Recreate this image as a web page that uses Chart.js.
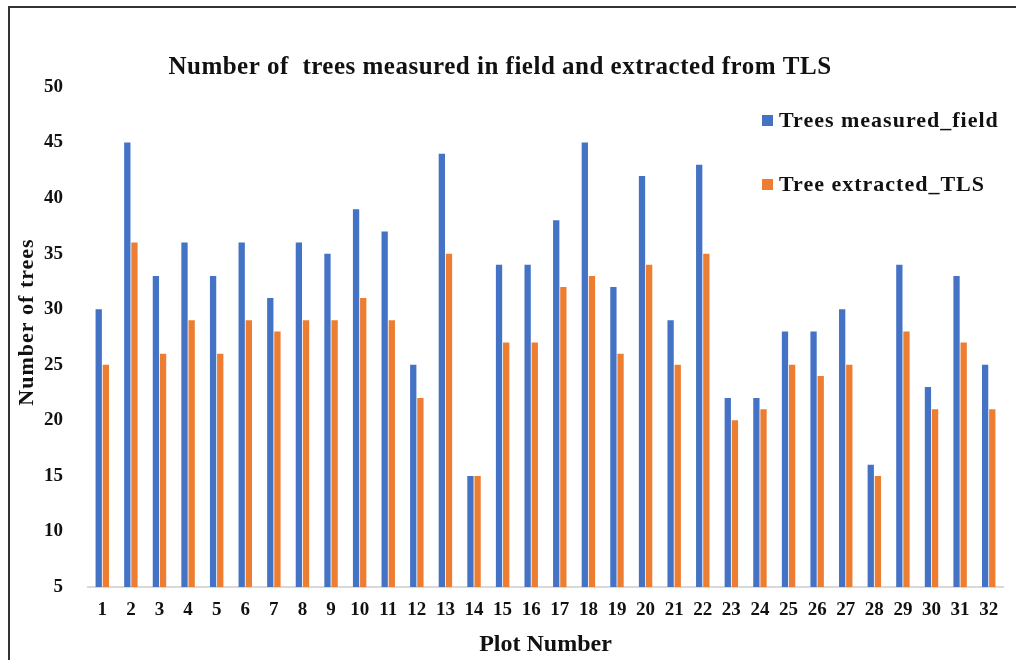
<!DOCTYPE html>
<html>
<head>
<meta charset="utf-8">
<script src="https://cdn.jsdelivr.net/npm/chart.js@4.4.1/dist/chart.umd.min.js"></script>
<style>
  html, body { margin: 0; padding: 0; background: #fff; }
  #wrap { position: relative; width: 1016px; height: 660px; overflow: hidden; }
  #frame { position: absolute; left: 8px; top: 6px; width: 1100px; height: 700px;
           border-left: 2px solid #333; border-top: 2px solid #333; box-sizing: border-box; }
  canvas { position: absolute; left: 0; top: 0; }
</style>
</head>
<body>
<div id="wrap">
  <div id="frame"></div>
  <canvas id="chart" width="1016" height="660"></canvas>
</div>
<script>
// Plot numbers along the x axis
const plots = ['1','2','3','4','5','6','7','8','9','10','11','12','13','14','15','16',
               '17','18','19','20','21','22','23','24','25','26','27','28','29','30','31','32'];
// Trees counted in the field per plot
const fieldTrees = [30,45,33,36,33,36,31,36,35,39,37,25,44,15,34,34,
                    38,45,32,42,29,43,22,22,28,28,30,16,34,23,33,25];
// Trees extracted from the terrestrial laser scan per plot
const tlsTrees = [25,36,26,29,26,29,28,29,29,31,29,22,35,15,27,27,
                  32,33,26,34,25,35,20,21,25,24,25,15,28,21,27,21];
// Y axis range
const yMin = 5, yMax = 50, yStep = 5;

const SERIF = '"Liberation Serif", "DejaVu Serif", serif';
const titleText = 'Number of  trees measured in field and extracted from TLS';
const yTitleText = 'Number of trees';

// Title, y-axis title and legend drawn straight onto the canvas
const overlay = {
  id: 'overlay',
  afterDraw(chart) {
    const ctx = chart.ctx;
    ctx.save();
    ctx.fillStyle = '#111';
    ctx.font = 'bold 25px ' + SERIF;
    ctx.letterSpacing = '0.5px';
    ctx.textAlign = 'center';
    ctx.textBaseline = 'middle';
    ctx.fillText(titleText, 500, 68);

    // vertical axis title
    ctx.save();
    ctx.translate(27, 322);
    ctx.rotate(-Math.PI / 2);
    ctx.font = 'bold 22px ' + SERIF;
    ctx.letterSpacing = '1px';
    ctx.fillText(yTitleText, 0, 0);
    ctx.restore();

    ctx.font = 'bold 22px ' + SERIF;
    ctx.letterSpacing = '1px';
    ctx.textAlign = 'left';
    const rows = [120, 184];
    chart.data.datasets.forEach((ds, i) => {
      ctx.fillStyle = ds.backgroundColor;
      ctx.fillRect(762, rows[i] - 5, 11, 11);
      ctx.fillStyle = '#111';
      ctx.fillText(ds.label, 779, rows[i] + 1);
    });
    ctx.restore();
  }
};

new Chart(document.getElementById('chart'), {
  type: 'bar',
  data: {
    labels: plots,
    datasets: [
      { label: 'Trees measured_field', data: fieldTrees, backgroundColor: '#4472C4' },
      { label: 'Tree extracted_TLS', data: tlsTrees, backgroundColor: '#ED7D31' }
    ]
  },
  options: {
    responsive: false,
    animation: false,
    devicePixelRatio: 1,
    layout: { padding: { left: 0, right: 13, top: 87, bottom: 0 } },
    datasets: { bar: { categoryPercentage: 0.5, barPercentage: 0.88 } },
    plugins: {
      legend: { display: false },
      title: { display: false },
      tooltip: { enabled: false }
    },
    scales: {
      x: {
        grid: { display: false, drawTicks: false },
        border: { display: true, color: '#d9d9d9', width: 2 },
        ticks: { color: '#111', font: { family: SERIF, size: 19, weight: 'bold' }, padding: 12, maxRotation: 0, autoSkip: false },
        title: { display: true, text: 'Plot Number', color: '#111',
                 font: { family: SERIF, size: 24, weight: 'bold' }, padding: { top: 0, bottom: 1 } },
        afterFit(scale) { scale.height = 73; }
      },
      y: {
        min: yMin, max: yMax,
        grid: { display: false, drawTicks: false },
        border: { display: false },
        ticks: { stepSize: yStep, color: '#111', font: { family: SERIF, size: 19, weight: 'bold' }, padding: 25 },
        afterFit(scale) { scale.width = 88; }
      }
    }
  },
  plugins: [overlay]
});
</script>
</body>
</html>
